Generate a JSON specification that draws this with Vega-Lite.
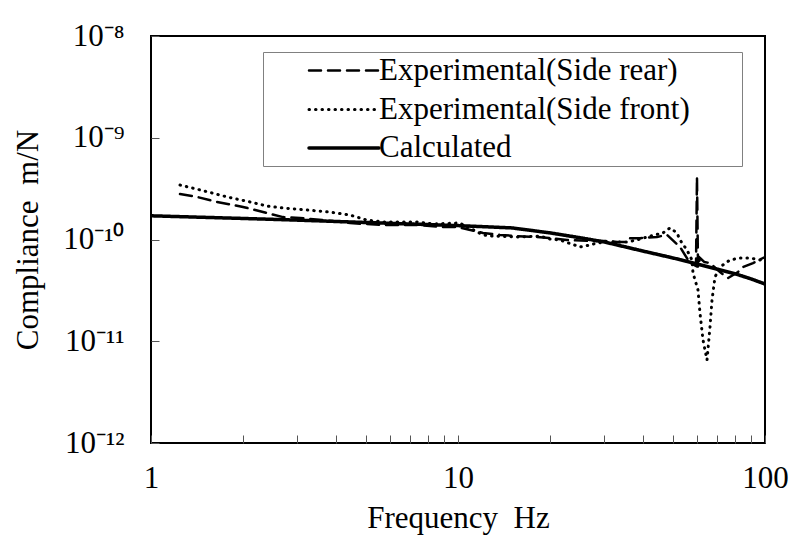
{
  "$schema": "https://vega.github.io/schema/vega-lite/v6.json",
  "width": 614,
  "height": 407,
  "autosize": "none",
  "padding": {"left": 151, "top": 36, "right": 27, "bottom": 93},
  "background": "white",
  "data": {
    "values": [
      {"series": "Experimental(Side rear)", "f": 1.243, "c": 2.80e-10},
      {"series": "Experimental(Side rear)", "f": 1.412, "c": 2.62e-10},
      {"series": "Experimental(Side rear)", "f": 1.641, "c": 2.34e-10},
      {"series": "Experimental(Side rear)", "f": 1.994, "c": 2.09e-10},
      {"series": "Experimental(Side rear)", "f": 2.387, "c": 1.82e-10},
      {"series": "Experimental(Side rear)", "f": 2.692, "c": 1.66e-10},
      {"series": "Experimental(Side rear)", "f": 3.058, "c": 1.63e-10},
      {"series": "Experimental(Side rear)", "f": 3.634, "c": 1.55e-10},
      {"series": "Experimental(Side rear)", "f": 4.448, "c": 1.45e-10},
      {"series": "Experimental(Side rear)", "f": 5.697, "c": 1.39e-10},
      {"series": "Experimental(Side rear)", "f": 7.353, "c": 1.39e-10},
      {"series": "Experimental(Side rear)", "f": 8.738, "c": 1.33e-10},
      {"series": "Experimental(Side rear)", "f": 9.93, "c": 1.33e-10},
      {"series": "Experimental(Side rear)", "f": 12.06, "c": 1.16e-10},
      {"series": "Experimental(Side rear)", "f": 13.7, "c": 1.11e-10},
      {"series": "Experimental(Side rear)", "f": 15.57, "c": 1.08e-10},
      {"series": "Experimental(Side rear)", "f": 18.08, "c": 1.06e-10},
      {"series": "Experimental(Side rear)", "f": 19.94, "c": 1.03e-10},
      {"series": "Experimental(Side rear)", "f": 22.65, "c": 9.89e-11},
      {"series": "Experimental(Side rear)", "f": 26.92, "c": 9.67e-11},
      {"series": "Experimental(Side rear)", "f": 30.57, "c": 9.67e-11},
      {"series": "Experimental(Side rear)", "f": 32.96, "c": 9.45e-11},
      {"series": "Experimental(Side rear)", "f": 35.52, "c": 9.45e-11},
      {"series": "Experimental(Side rear)", "f": 36.34, "c": 1.03e-10},
      {"series": "Experimental(Side rear)", "f": 39.16, "c": 1.03e-10},
      {"series": "Experimental(Side rear)", "f": 44.48, "c": 1.06e-10},
      {"series": "Experimental(Side rear)", "f": 47.95, "c": 1.11e-10},
      {"series": "Experimental(Side rear)", "f": 52.86, "c": 8.44e-11},
      {"series": "Experimental(Side rear)", "f": 56.97, "c": 5.87e-11},
      {"series": "Experimental(Side rear)", "f": 59.6, "c": 5.5e-11},
      {"series": "Experimental(Side rear)", "f": 60.04, "c": 4.11e-10},
      {"series": "Experimental(Side rear)", "f": 60.5, "c": 5.36e-11},
      {"series": "Experimental(Side rear)", "f": 61.41, "c": 6.58e-11},
      {"series": "Experimental(Side rear)", "f": 63.5, "c": 6.0e-11},
      {"series": "Experimental(Side rear)", "f": 66.2, "c": 5.87e-11},
      {"series": "Experimental(Side rear)", "f": 71.36, "c": 4.79e-11},
      {"series": "Experimental(Side rear)", "f": 75.77, "c": 4.18e-11},
      {"series": "Experimental(Side rear)", "f": 81.66, "c": 4.79e-11},
      {"series": "Experimental(Side rear)", "f": 84.78, "c": 5.36e-11},
      {"series": "Experimental(Side rear)", "f": 91.4, "c": 5.87e-11},
      {"series": "Experimental(Side rear)", "f": 98.5, "c": 6.58e-11},
      {"series": "Experimental(Side rear)", "f": 100, "c": 6.73e-11},

      {"series": "Experimental(Side front)", "f": 1.243, "c": 3.43e-10},
      {"series": "Experimental(Side front)", "f": 1.477, "c": 3.02e-10},
      {"series": "Experimental(Side front)", "f": 1.769, "c": 2.62e-10},
      {"series": "Experimental(Side front)", "f": 2.101, "c": 2.34e-10},
      {"series": "Experimental(Side front)", "f": 2.387, "c": 2.13e-10},
      {"series": "Experimental(Side front)", "f": 2.692, "c": 2.04e-10},
      {"series": "Experimental(Side front)", "f": 3.223, "c": 1.95e-10},
      {"series": "Experimental(Side front)", "f": 3.829, "c": 1.86e-10},
      {"series": "Experimental(Side front)", "f": 4.448, "c": 1.74e-10},
      {"series": "Experimental(Side front)", "f": 5.052, "c": 1.55e-10},
      {"series": "Experimental(Side front)", "f": 5.697, "c": 1.49e-10},
      {"series": "Experimental(Side front)", "f": 7.353, "c": 1.49e-10},
      {"series": "Experimental(Side front)", "f": 8.288, "c": 1.42e-10},
      {"series": "Experimental(Side front)", "f": 9.93, "c": 1.45e-10},
      {"series": "Experimental(Side front)", "f": 10.15, "c": 1.45e-10},
      {"series": "Experimental(Side front)", "f": 12.06, "c": 1.11e-10},
      {"series": "Experimental(Side front)", "f": 13.0, "c": 1.08e-10},
      {"series": "Experimental(Side front)", "f": 15.57, "c": 1.06e-10},
      {"series": "Experimental(Side front)", "f": 18.5, "c": 1.08e-10},
      {"series": "Experimental(Side front)", "f": 19.94, "c": 1.01e-10},
      {"series": "Experimental(Side front)", "f": 21.49, "c": 9.89e-11},
      {"series": "Experimental(Side front)", "f": 24.97, "c": 8.44e-11},
      {"series": "Experimental(Side front)", "f": 26.92, "c": 8.83e-11},
      {"series": "Experimental(Side front)", "f": 28.37, "c": 9.24e-11},
      {"series": "Experimental(Side front)", "f": 30.57, "c": 9.45e-11},
      {"series": "Experimental(Side front)", "f": 35.52, "c": 9.45e-11},
      {"series": "Experimental(Side front)", "f": 38.3, "c": 9.89e-11},
      {"series": "Experimental(Side front)", "f": 42.21, "c": 1.08e-10},
      {"series": "Experimental(Side front)", "f": 46.54, "c": 1.16e-10},
      {"series": "Experimental(Side front)", "f": 49.04, "c": 1.30e-10},
      {"series": "Experimental(Side front)", "f": 51.69, "c": 1.16e-10},
      {"series": "Experimental(Side front)", "f": 52.86, "c": 9.89e-11},
      {"series": "Experimental(Side front)", "f": 55.7, "c": 7.88e-11},
      {"series": "Experimental(Side front)", "f": 57.83, "c": 6.29e-11},
      {"series": "Experimental(Side front)", "f": 58.27, "c": 4.69e-11},
      {"series": "Experimental(Side front)", "f": 60.5, "c": 3.19e-11},
      {"series": "Experimental(Side front)", "f": 61.41, "c": 1.89e-11},
      {"series": "Experimental(Side front)", "f": 62.81, "c": 1.03e-11},
      {"series": "Experimental(Side front)", "f": 64.73, "c": 6.54e-12},
      {"series": "Experimental(Side front)", "f": 66.2, "c": 1.38e-11},
      {"series": "Experimental(Side front)", "f": 67.2, "c": 2.54e-11},
      {"series": "Experimental(Side front)", "f": 68.73, "c": 4.28e-11},
      {"series": "Experimental(Side front)", "f": 71.36, "c": 5.36e-11},
      {"series": "Experimental(Side front)", "f": 76.91, "c": 6.29e-11},
      {"series": "Experimental(Side front)", "f": 82.9, "c": 6.58e-11},
      {"series": "Experimental(Side front)", "f": 89.37, "c": 6.58e-11},
      {"series": "Experimental(Side front)", "f": 96.3, "c": 6.29e-11},
      {"series": "Experimental(Side front)", "f": 100, "c": 6.73e-11},

      {"series": "Calculated", "f": 1, "c": 1.71e-10},
      {"series": "Calculated", "f": 1.5, "c": 1.65e-10},
      {"series": "Calculated", "f": 2, "c": 1.61e-10},
      {"series": "Calculated", "f": 3, "c": 1.55e-10},
      {"series": "Calculated", "f": 5, "c": 1.47e-10},
      {"series": "Calculated", "f": 7, "c": 1.42e-10},
      {"series": "Calculated", "f": 10, "c": 1.37e-10},
      {"series": "Calculated", "f": 15, "c": 1.30e-10},
      {"series": "Calculated", "f": 20, "c": 1.16e-10},
      {"series": "Calculated", "f": 25, "c": 1.04e-10},
      {"series": "Calculated", "f": 30, "c": 9.45e-11},
      {"series": "Calculated", "f": 40, "c": 7.7e-11},
      {"series": "Calculated", "f": 50, "c": 6.6e-11},
      {"series": "Calculated", "f": 60, "c": 5.75e-11},
      {"series": "Calculated", "f": 70, "c": 5.1e-11},
      {"series": "Calculated", "f": 80, "c": 4.6e-11},
      {"series": "Calculated", "f": 90, "c": 4.1e-11},
      {"series": "Calculated", "f": 100, "c": 3.65e-11}
    ]
  },
  "mark": {"type": "line", "color": "black", "strokeCap": "round", "clip": true},
  "encoding": {
    "x": {
      "field": "f",
      "type": "quantitative",
      "scale": {"type": "log", "domain": [1, 100], "nice": false},
      "axis": {
        "title": "Frequency\u00a0 Hz",
        "values": [1, 2, 3, 4, 5, 6, 7, 8, 9, 10, 20, 30, 40, 50, 60, 70, 80, 90, 100],
        "labelExpr": "datum.value == 1 || datum.value == 10 || datum.value == 100 ? format(datum.value, 'd') : ''",
        "labelPadding": 28,
        "titlePadding": 10
      }
    },
    "y": {
      "field": "c",
      "type": "quantitative",
      "scale": {"type": "log", "domain": [1e-12, 1e-8], "nice": false},
      "axis": {
        "title": "Compliance\u00a0 m/N",
        "values": [1e-12, 1e-11, 1e-10, 1e-9, 1e-8],
        "labelExpr": "datum.value > 5e-9 ? '10\u207b\u2078' : datum.value > 5e-10 ? '10\u207b\u2079' : datum.value > 5e-11 ? '10\u207b\u00b9\u2070' : datum.value > 5e-12 ? '10\u207b\u00b9\u00b9' : '10\u207b\u00b9\u00b2'",
        "labelPadding": 35,
        "titlePadding": 18
      }
    },
    "strokeWidth": {
      "field": "series",
      "type": "nominal",
      "scale": {
        "domain": ["Experimental(Side rear)", "Experimental(Side front)", "Calculated"],
        "range": [2.5, 3.5, 2.5]
      },
      "legend": null
    },
    "strokeDash": {
      "field": "series",
      "type": "nominal",
      "scale": {
        "domain": ["Experimental(Side rear)", "Experimental(Side front)", "Calculated"],
        "range": [[12, 7], [0.5, 6], [1, 0]]
      },
      "legend": {
        "title": "\u00a0",
        "titleOrient": "right",
        "titlePadding": 49,
        "titleColor": "white",
        "titleFontSize": 10,
        "orient": "none",
        "legendX": 112,
        "legendY": 16,
        "padding": 3,
        "strokeColor": "#808080",
        "fillColor": "white",
        "symbolType": "M-2.5,0H2.5",
        "symbolSize": 784,
        "symbolStrokeWidth": 2.5,
        "symbolStrokeColor": "black",
        "symbolFillColor": "transparent",
        "symbolOffset": 62,
        "labelOffset": 19,
        "rowPadding": 7,
        "labelFont": "Liberation Serif, Times New Roman, Times, serif",
        "labelFontSize": 31,
        "labelColor": "black",
        "labelLimit": 0,
        "encode": {"symbols": {"update": {"strokeCap": {"value": "round"}}}}
      }
    }
  },
  "config": {
    "view": {"stroke": "black", "strokeWidth": 2},
    "axis": {
      "domain": false,
      "grid": false,
      "tickSize": -8,
      "tickColor": "#555555",
      "tickWidth": 1,
      "labelFont": "Liberation Serif, Times New Roman, Times, serif",
      "labelFontSize": 31,
      "labelColor": "black",
      "labelFlush": false,
      "labelOverlap": false,
      "titleFont": "Liberation Serif, Times New Roman, Times, serif",
      "titleFontSize": 31,
      "titleFontWeight": "normal",
      "titleColor": "black"
    }
  }
}
